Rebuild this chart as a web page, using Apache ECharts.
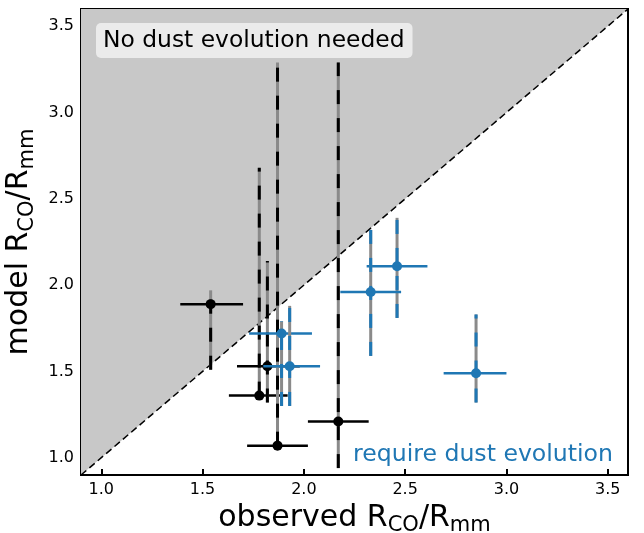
<!DOCTYPE html>
<html>
<head>
<meta charset="utf-8">
<script src="https://cdn.jsdelivr.net/npm/echarts@6/dist/echarts.min.js"></script>
<style>
  html, body { margin: 0; padding: 0; background: #fff; }
  #chart { width: 644px; height: 533px; }
</style>
</head>
<body>
<div id="chart"></div>
<script>
// disks that need no dust evolution (black) / need it (blue)
const blackX = [1.54, 1.78, 1.82, 1.87, 2.17]
const blackY = [1.89, 1.36, 1.53, 1.07, 1.21]
const blackXLo = [1.39, 1.63, 1.67, 1.72, 2.02]
const blackXHi = [1.70, 1.92, 1.98, 2.02, 2.32]
const blackYLo = [1.51, 1.36, 1.32, 1.07, 0.94]
const blackYHi = [1.97, 2.68, 2.14, 3.29, 3.29]

const blueX = [2.46, 2.33, 2.85, 1.89, 1.93]
const blueY = [2.11, 1.96, 1.49, 1.72, 1.53]
const blueXLo = [2.31, 2.18, 2.69, 1.73, 1.80]
const blueXHi = [2.61, 2.48, 3.00, 2.04, 2.08]
const blueYLo = [1.81, 1.59, 1.32, 1.30, 1.30]
const blueYHi = [2.39, 2.32, 1.83, 1.79, 1.88]

const axisMin = 0.9
const axisMax = 3.6
const tickValues = [1.0, 1.5, 2.0, 2.5, 3.0, 3.5]
const diagonal = [[axisMin, axisMin], [axisMax, axisMax]]

const FONT = 'DejaVu Sans'
const BLUE = '#1f77b4'

function rows(xs, ys, xlo, xhi, ylo, yhi) {
  return xs.map((x, i) => [x, ys[i], xlo[i], xhi[i], ylo[i], yhi[i]])
}

function errorBars(color) {
  return function (params, api) {
    const p = api.coord([api.value(0), api.value(1)])
    const bot = api.coord([api.value(0), api.value(4)])
    const top = api.coord([api.value(0), api.value(5)])
    const left = api.coord([api.value(2), api.value(1)])
    const right = api.coord([api.value(3), api.value(1)])
    return {
      type: 'group',
      children: [
        { type: 'line', shape: { x1: bot[0], y1: bot[1], x2: top[0], y2: top[1] }, style: { stroke: '#8a8a8a', lineWidth: 3 } },
        { type: 'line', shape: { x1: bot[0], y1: bot[1], x2: top[0], y2: top[1] }, style: { stroke: color, lineWidth: 3, lineDash: [14, 14] } },
        { type: 'line', shape: { x1: left[0], y1: left[1], x2: right[0], y2: right[1] }, style: { stroke: color, lineWidth: 2.5 } },
        { type: 'circle', shape: { cx: p[0], cy: p[1], r: 5 }, style: { fill: color } },
      ],
    }
  }
}

const titleRich = {
  n: { fontSize: 30, fontFamily: FONT, color: '#000', lineHeight: 36 },
  s: { fontSize: 21, fontFamily: FONT, color: '#000', lineHeight: 21, verticalAlign: 'bottom' },
}

function axis(name, gap) {
  return {
    type: 'value',
    min: axisMin,
    max: axisMax,
    name,
    nameLocation: 'middle',
    nameGap: gap,
    nameTextStyle: { fontFamily: FONT, rich: titleRich },
    splitLine: { show: false },
    axisLine: { show: true, lineStyle: { color: '#000', width: 2 } },
    axisTick: { show: true, inside: true, length: 6, customValues: tickValues, lineStyle: { color: '#000', width: 2 } },
    axisLabel: {
      customValues: tickValues,
      formatter: v => v.toFixed(1),
      fontFamily: FONT,
      fontSize: 16,
      color: '#000',
      margin: 7,
    },
  }
}

const chart = echarts.init(document.getElementById('chart'))
chart.setOption({
  animation: false,
  grid: {
    left: 81, right: 16, top: 9, bottom: 58,
    outerBoundsMode: 'none',
    show: true, borderColor: '#000', borderWidth: 2,
  },
  xAxis: axis('{n|observed R}{s|CO}{n|/R}{s|mm}', 22),
  yAxis: axis('{n|model R}{s|CO}{n|/R}{s|mm}', 31),
  series: [
    {
      type: 'line',
      data: diagonal,
      symbol: 'none',
      silent: true,
      z: 1,
      lineStyle: { color: '#000', width: 1.5, type: [7, 4] },
      areaStyle: { color: '#c8c8c8', opacity: 1, origin: 'end' },
    },
    {
      type: 'custom',
      z: 3,
      data: rows(blackX, blackY, blackXLo, blackXHi, blackYLo, blackYHi),
      renderItem: errorBars('#000'),
    },
    {
      type: 'custom',
      z: 4,
      data: rows(blueX, blueY, blueXLo, blueXHi, blueYLo, blueYHi),
      renderItem: errorBars(BLUE),
    },
  ],
  graphic: [
    {
      type: 'text',
      x: 96,
      y: 23,
      z: 10,
      style: {
        text: 'No dust evolution needed',
        font: '23.4px "DejaVu Sans"',
        fill: '#000',
        backgroundColor: '#ebebeb',
        padding: [6, 8, 6, 7],
        borderRadius: 5,
      },
    },
    {
      type: 'text',
      x: 613,
      y: 455,
      z: 10,
      style: {
        text: 'require dust evolution',
        font: '23.6px "DejaVu Sans"',
        fill: BLUE,
        align: 'right',
        verticalAlign: 'middle',
      },
    },
  ],
})
</script>
</body>
</html>
